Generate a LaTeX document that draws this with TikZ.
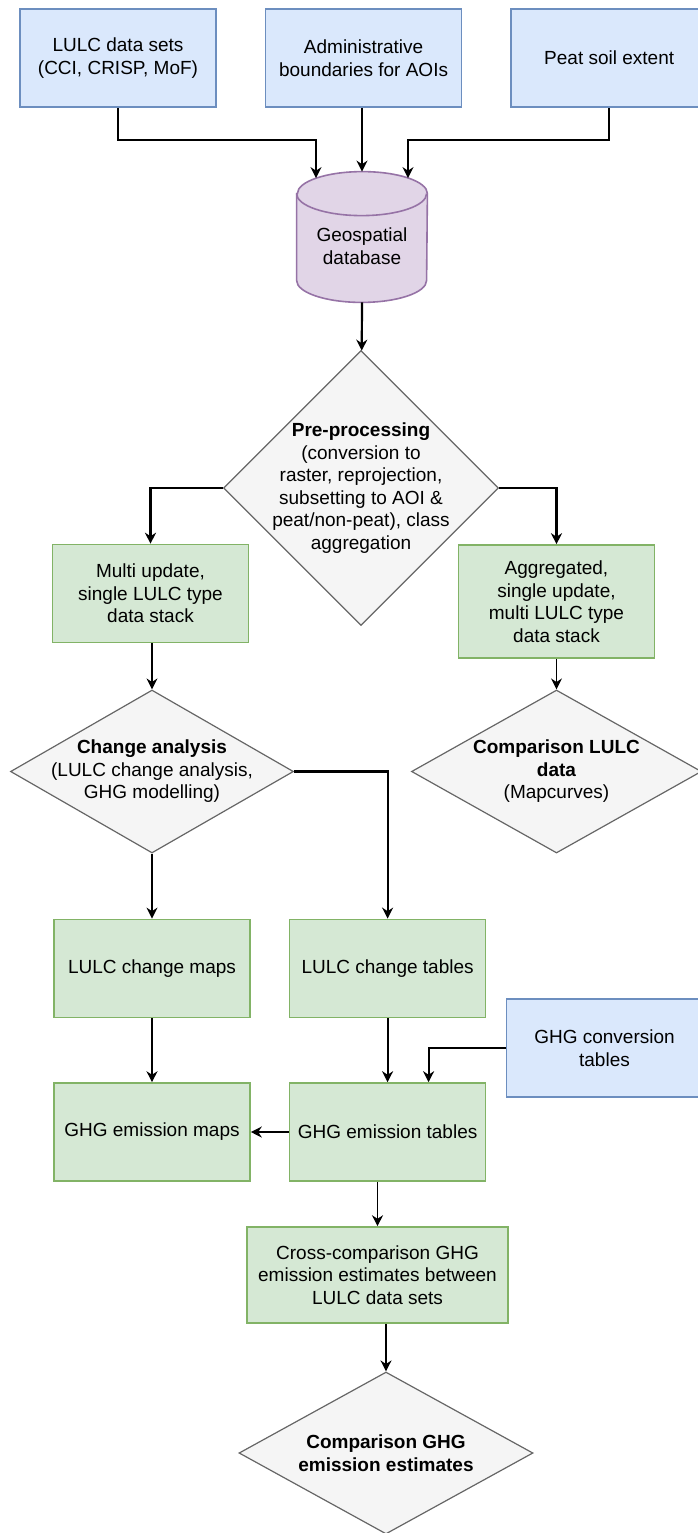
\documentclass[tikz,border=0pt]{standalone}
\usepackage{fontspec}
\setmainfont{Liberation Sans}
\usepackage{tikz}
\usetikzlibrary{arrows.meta, positioning, shapes.geometric, calc, backgrounds}
\definecolor{inputfill}{HTML}{DAE8FC}
\definecolor{inputline}{HTML}{6C8EBF}
\definecolor{datafill}{HTML}{D5E8D4}
\definecolor{dataline}{HTML}{82B366}
\definecolor{dbfill}{HTML}{E1D5E7}
\definecolor{dbline}{HTML}{9673A6}
\definecolor{stepfill}{HTML}{F5F5F5}
\definecolor{stepline}{HTML}{666666}
\newcommand{\chartfont}{\fontsize{9.5}{11.25}\selectfont}
\tikzset{
  inbox/.style={rectangle, draw=inputline, fill=inputfill, line width=0.8pt,
              minimum height=49pt, minimum width=98pt, align=center, font=\chartfont},
  databox/.style={rectangle, draw=dataline, fill=datafill, line width=0.8pt,
              minimum height=49pt, minimum width=98pt, align=center, font=\chartfont},
  dbbox/.style={rectangle, minimum height=65pt, minimum width=65pt, inner sep=0pt},
  dbshape/.style={draw=dbline, fill=dbfill, line width=0.8pt},
  decision/.style={diamond, draw=stepline, fill=stepfill, line width=0.6pt, inner sep=0pt},
  dtext/.style={align=center, font=\chartfont, inner sep=0pt},
  flow/.style={-{Stealth[length=5.5pt, width=5.5pt, inset=1.8pt]}, line width=1.1pt},
  thinflow/.style={-{Stealth[length=5.5pt, width=5.5pt, inset=1.8pt]}, line width=0.6pt},
}

\begin{document}
\begin{tikzpicture}[x=0.5pt, y=-0.5pt, node distance=24pt]
  \useasboundingbox (0,0) rectangle (697,1533);

  % input data
  \node[inbox] (lulc) at (118,58) {LULC data sets\\(CCI, CRISP, MoF)};
  \node[inbox, right=of lulc] (admin) {Administrative\\boundaries for AOIs};
  \node[inbox, right=of admin] (peat) {Peat soil extent};
  \node[dbbox, label={[dtext, yshift=-4.5pt]center:{Geospatial\\database}}] (db) at (362,237) {};
  \begin{scope}[on background layer]
    \draw[dbshape] ([yshift=-11pt]db.north west) -- ([yshift=11pt]db.south west)
      arc[start angle=180, end angle=360, x radius=32.5pt, y radius=11pt]
      -- ([yshift=-11pt]db.north east)
      arc[start angle=0, end angle=180, x radius=32.5pt, y radius=11pt] -- cycle;
    \draw[dbshape, fill=none] ([yshift=-11pt]db.north west)
      arc[start angle=180, end angle=360, x radius=32.5pt, y radius=11pt];
  \end{scope}

  % pre-processing
  \node[decision, minimum width=137.5pt, minimum height=137.5pt,
        label={[dtext]center:{\textbf{Pre-processing}\\(conversion to\\raster, reprojection,\\subsetting to AOI \&\\peat/non-peat), class\\aggregation}}] (pre) at (361,488) {};
  \node[databox] (multi) at (150.5,593.5) {Multi update,\\single LULC type\\data stack};
  \node[databox, minimum height=56.5pt] (aggr) at (556.5,601.5) {Aggregated,\\single update,\\multi LULC type\\data stack};

  % analysis
  \node[decision, minimum width=141.5pt, minimum height=81.5pt,
        label={[dtext]center:{\textbf{Change analysis}\\(LULC change analysis,\\GHG modelling)}}] (change) at (152,771.5) {};
  \node[decision, minimum width=145pt, minimum height=81.5pt,
        label={[dtext]center:{\textbf{Comparison LULC}\\\textbf{data}\\(Mapcurves)}}] (complulc) at (change -| aggr) {};
  \node[databox, below=32.5pt of change] (lcmaps) {LULC change maps};
  \node[databox, right=19pt of lcmaps] (lctables) {LULC change tables};
  \node[databox, below=32pt of lcmaps] (emaps) {GHG emission maps};
  \node[databox, right=19pt of emaps] (etables) {GHG emission tables};
  \node[inbox] (ghgconv) at (604.5,1048) {GHG conversion\\tables};

  % comparison
  \node[databox, minimum width=130.5pt, minimum height=48pt] (cross) at (377.5,1275) {Cross-comparison GHG\\emission estimates between\\LULC data sets};
  \node[decision, minimum width=147pt, minimum height=81pt,
        label={[dtext]center:{\textbf{Comparison GHG}\\\textbf{emission estimates}}}] (compghg) at (386,1453) {};

  \draw[flow] (lulc.south) -- ++(0,32) -| ($(db.north)+(-46,6.5)$);
  \draw[flow] (db.north |- admin.south) -- (db.north);
  \draw[flow] (peat.south) -- ++(0,32) -| ($(db.north)+(46,6.5)$);
  \draw[flow] (db.south) -- (pre);
  \draw[flow] (pre.west) -| (multi.north);
  \draw[flow] (pre.east) -| (aggr.north);
  \draw[thinflow] (change.north |- multi.south) -- (change.north);
  \draw[thinflow] (aggr) -- (complulc);
  \draw[flow] (change.east) -| (lctables.north);
  \draw[thinflow] (change) -- (lcmaps);
  \draw[thinflow] (lcmaps) -- (emaps);
  \draw[flow] (lctables) -- (etables);
  \draw[flow] (ghgconv.west) -| ($(etables.north)+(41,0)$);
  \draw[flow] (etables) -- (emaps);
  \draw[thinflow] (cross.north |- etables.south) -- (cross.north);
  \draw[flow] (compghg.north |- cross.south) -- (compghg.north);
\end{tikzpicture}
\end{document}
